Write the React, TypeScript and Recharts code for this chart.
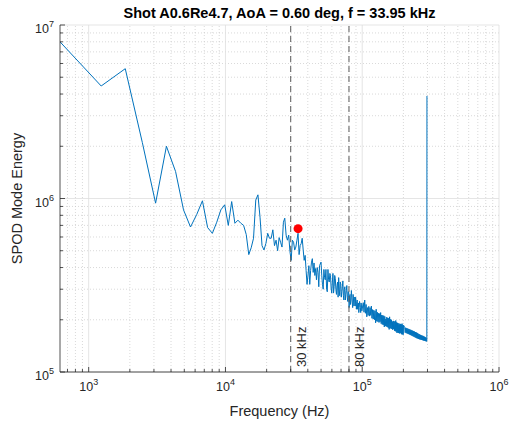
import React from 'react';
import { LineChart, Line, XAxis, YAxis, ReferenceLine, ReferenceDot } from 'recharts';

// ---- data (frequency in Hz, SPOD mode energy) ----
const lowFreqHz = [
  617, 1234, 1851, 2468, 3085, 3702, 4319, 4936, 5553, 6170,
  6787, 7404, 8021, 8638, 9255, 9872, 10489, 11106, 11723, 12340,
  12957, 13574, 14191, 14808, 15425, 16042, 16659, 17276, 17893, 18510,
  19127, 19744, 20361, 20978, 21595, 22212, 22829, 23446, 24063, 24680,
  25297, 25914, 26531, 27148, 27765, 28382, 28999, 29616, 30233, 30850,
  31467, 32084, 32701, 33318, 33935,
];
const lowEnergy = [
  8.0e6, 4.45e6, 5.6e6, 2.1e6, 9.4e5, 2.0e6, 1.43e6, 8.6e5, 6.85e5, 8.1e5,
  9.7e5, 6.8e5, 6.3e5, 7.3e5, 8.6e5, 9.2e5, 7.0e5, 9.6e5, 7.2e5, 7.5e5,
  7.2e5, 7.0e5, 6.2e5, 4.75e5, 5.2e5, 5.9e5, 9.8e5, 1.05e6, 7.8e5, 5.35e5,
  5.05e5, 5.5e5, 6.3e5, 5.9e5, 5.9e5, 6.6e5, 5.35e5, 5.75e5, 5.0e5, 5.95e5,
  5.6e5, 5.25e5, 7.3e5, 7.7e5, 6.15e5, 5.75e5, 6.15e5, 4.95e5, 4.4e5, 5.75e5,
  5.6e5, 5.05e5, 5.25e5, 5.75e5, 6.3e5,
];
const midFreqHz = [
  34552, 35169, 35786, 36403, 37020, 37637, 38254, 38871, 39488, 40105,
  40722, 41339, 41956, 42573, 43190, 43807, 44424, 45041, 45658, 46275,
  46892, 47509, 48126, 48743,
];
const midEnergy = [
  4.75e5, 5.35e5, 5.5e5, 5.9e5, 5.05e5, 4.4e5, 4.7e5, 3.85e5, 3.2e5, 3.6e5,
  4.1e5, 3.2e5, 3.85e5, 4.3e5, 4.5e5, 3.75e5, 4.25e5, 3.6e5, 3.95e5, 3.4e5,
  4.0e5, 3.75e5, 3.1e5, 4.1e5,
];
const upperFreqHz = [
  49977, 51211, 52445, 53679, 54913, 56147, 57381, 58615, 59849, 61083,
  62317, 63551, 64785, 66019, 67253, 68487, 69721, 70955, 72189, 73423,
  74657, 75891, 77125, 78359, 79593, 80827, 82061, 83295, 84529, 85763,
  86997, 88231, 89465, 90699, 91933, 93167, 94401, 95635, 96869, 98103,
  99337,
];
const upperEnergy = [
  4.3e5, 3.2e5, 3.9e5, 3.4e5, 3.0e5, 3.9e5, 3.3e5, 3.6e5, 2.85e5, 3.7e5,
  3.1e5, 3.45e5, 2.8e5, 3.3e5, 3.5e5, 2.75e5, 3.2e5, 2.9e5, 3.35e5, 2.6e5,
  3.1e5, 2.8e5, 3.15e5, 2.55e5, 2.9e5, 2.75e5, 2.45e5, 2.95e5, 2.5e5, 2.8e5,
  2.4e5, 2.65e5, 2.7e5, 2.3e5, 2.6e5, 2.4e5, 2.2e5, 2.55e5, 2.35e5, 2.5e5,
  2.25e5,
];
const upperFreqHzB = [
  50594, 51828, 53062, 54296, 55530, 56764, 57998, 59232, 60466, 61700,
  62934, 64168, 65402, 66636, 67870, 69104, 70338, 71572, 72806, 74040,
  75274, 76508, 77742, 78976, 80210, 81444, 82678, 83912, 85146, 86380,
  87614, 88848, 90082, 91316, 92550, 93784, 95018, 96252, 97486, 98720,
];
const upperEnergyB = [
  3.6e5, 3.0e5, 3.5e5, 3.9e5, 2.9e5, 3.4e5, 3.7e5, 3.05e5, 3.3e5, 2.85e5,
  3.6e5, 3.0e5, 3.15e5, 2.7e5, 3.0e5, 3.3e5, 2.7e5, 3.1e5, 2.75e5, 3.0e5,
  2.6e5, 2.95e5, 2.7e5, 2.9e5, 2.35e5, 2.8e5, 2.6e5, 2.7e5, 2.35e5, 2.6e5,
  2.7e5, 2.4e5, 2.5e5, 2.55e5, 2.3e5, 2.5e5, 2.35e5, 2.45e5, 2.2e5, 2.4e5,
];
const highFreqHz = [
  101805, 104273, 106741, 109209, 111677, 114145, 116613, 119081, 121549, 124017,
  126485, 128953, 131421, 133889, 136357, 138825, 141293, 143761, 146229, 148697,
  151165, 153633, 156101, 158569, 161037, 163505, 165973, 168441, 170909, 173377,
  175845, 178313, 180781, 183249, 185717, 188185, 190653, 193121, 195589, 198057,
  200525,
];
const highEnergy = [
  2.51e5, 2.6e5, 2.45e5, 2.35e5, 2.39e5, 2.35e5, 2.4e5, 2.29e5, 2.27e5, 2.25e5,
  2.3e5, 2.21e5, 2.18e5, 2.17e5, 2.2e5, 2.13e5, 2.12e5, 2.11e5, 2.09e5, 2.02e5,
  2.07e5, 2.05e5, 2.04e5, 2.08e5, 2.01e5, 2.0e5, 1.95e5, 1.97e5, 1.96e5, 1.95e5,
  1.98e5, 1.93e5, 1.92e5, 1.91e5, 1.87e5, 1.9e5, 1.89e5, 1.88e5, 1.9e5, 1.86e5,
  1.86e5,
];
const highFreqHzB = [
  103039, 105507, 107975, 110443, 112911, 115379, 117847, 120315, 122783, 125251,
  127719, 130187, 132655, 135123, 137591, 140059, 142527, 144995, 147463, 149931,
  152399, 154867, 157335, 159803, 162271, 164739, 167207, 169675, 172143, 174611,
  177079, 179547, 182015, 184483, 186951, 189419, 191887, 194355, 196823, 199291,
];
const highEnergyB = [
  2.21e5, 2.18e5, 2.08e5, 2.12e5, 2.1e5, 2.12e5, 2.04e5, 2.02e5, 2.0e5, 1.92e5,
  1.96e5, 1.95e5, 1.93e5, 1.95e5, 1.9e5, 1.88e5, 1.87e5, 1.82e5, 1.84e5, 1.83e5,
  1.82e5, 1.8e5, 1.76e5, 1.79e5, 1.78e5, 1.77e5, 1.75e5, 1.77e5, 1.73e5, 1.72e5,
  1.71e5, 1.68e5, 1.69e5, 1.68e5, 1.67e5, 1.67e5, 1.68e5, 1.65e5, 1.65e5, 1.64e5,
];
const topFreqHz = [
  204227, 207929, 211631, 215333, 219035, 222737, 226439, 230141, 233843, 237545,
  241247, 244949, 248651, 252353, 256055, 259757, 263459, 267161, 270863, 274565,
  278267, 281969, 285671, 289373, 293075, 296777, 297394,
];
const topEnergy = [
  1.81e5, 1.8e5, 1.79e5, 1.78e5, 1.77e5, 1.76e5, 1.75e5, 1.74e5, 1.73e5, 1.72e5,
  1.71e5, 1.7e5, 1.69e5, 1.68e5, 1.665e5, 1.655e5, 1.645e5, 1.635e5, 1.625e5, 1.62e5,
  1.615e5, 1.605e5, 1.595e5, 1.585e5, 1.575e5, 1.51e5, 3.9e6,
];
const topFreqHzB = [
  206078, 209780, 213482, 217184, 220886, 224588, 228290, 231992, 235694, 239396,
  243098, 246800, 250502, 254204, 257906, 261608, 265310, 269012, 272714, 276416,
  280118, 283820, 287522, 291224, 294926,
];
const topEnergyB = [
  1.685e5, 1.675e5, 1.665e5, 1.655e5, 1.645e5, 1.635e5, 1.625e5, 1.615e5, 1.605e5, 1.595e5,
  1.585e5, 1.575e5, 1.565e5, 1.56e5, 1.55e5, 1.545e5, 1.54e5, 1.535e5, 1.53e5, 1.525e5,
  1.52e5, 1.515e5, 1.51e5, 1.505e5, 1.5e5,
];

const peakFreqHz = 33950;
const peakEnergy = 6.7e5;
const markerFreqs = [30000, 80000];
const markerLabels = ['30 kHz', '80 kHz'];

const xMajorTicks = [1e3, 1e4, 1e5, 1e6];
const xMinorTicks = [
  700, 800, 900,
  2000, 3000, 4000, 5000, 6000, 7000, 8000, 9000,
  20000, 30000, 40000, 50000, 60000, 70000, 80000, 90000,
  200000, 300000, 400000, 500000, 600000, 700000, 800000, 900000,
];
const yMajorTicks = [1e5, 1e6, 1e7];
const yMinorTicks = [
  2e5, 3e5, 4e5, 5e5, 6e5, 7e5, 8e5, 9e5,
  2e6, 3e6, 4e6, 5e6, 6e6, 7e6, 8e6, 9e6,
];

const titleText = 'Shot A0.6Re4.7, AoA = 0.60 deg, f = 33.95 kHz';
const xLabel = 'Frequency (Hz)';
const yLabel = 'SPOD Mode Energy';

const allFreq = [
  ...lowFreqHz, ...midFreqHz, ...upperFreqHz, ...upperFreqHzB,
  ...highFreqHz, ...highFreqHzB, ...topFreqHz, ...topFreqHzB,
];
const allEnergy = [
  ...lowEnergy, ...midEnergy, ...upperEnergy, ...upperEnergyB,
  ...highEnergy, ...highEnergyB, ...topEnergy, ...topEnergyB,
];
const data = allFreq.map((f, i) => ({ f, e: allEnergy[i] })).sort((a, b) => a.f - b.f);

const xTicks = [...xMajorTicks, ...xMinorTicks].sort((a, b) => a - b);
const yTicks = [...yMajorTicks, ...yMinorTicks].sort((a, b) => a - b);

// ---- styling ----
const W = 509;
const H = 421;
const X_AXIS_H = 49;
const Y_AXIS_W = 60;
const M = { top: 25, right: 10, bottom: 0, left: 0 };
const AXIS = '#262626';
const FONT = '"Liberation Sans", Arial, Helvetica, sans-serif';
const LINE = '#0072BD';

const isMajor = (v: number) => Math.abs(Math.log10(v) - Math.round(Math.log10(v))) < 1e-9;
const exp = (v: number) => Math.round(Math.log10(v));

const XTickBottom = (props: any) => {
  const { x, y, payload } = props;
  const v = payload.value;
  const major = isMajor(v);
  const len = major ? 5 : 3;
  return (
    <g>
      <line x1={x} x2={x} y1={y} y2={y - len} stroke={AXIS} strokeWidth={0.8} />
      {major && (
        <text x={x} y={y + 19} textAnchor="middle" fontSize={12.5} fill={AXIS} fontFamily={FONT}>
          10<tspan dy={-6} fontSize={9}>{exp(v)}</tspan>
        </text>
      )}
    </g>
  );
};

const XTickTop = (props: any) => {
  const { x, y, payload } = props;
  const len = isMajor(payload.value) ? 5 : 3;
  return <line x1={x} x2={x} y1={y} y2={y + len} stroke={AXIS} strokeWidth={0.8} />;
};

const YTickLeft = (props: any) => {
  const { x, y, payload } = props;
  const v = payload.value;
  const major = isMajor(v);
  const len = major ? 5 : 3;
  return (
    <g>
      <line x1={x} x2={x + len} y1={y} y2={y} stroke={AXIS} strokeWidth={0.8} />
      {major && (
        <text x={x - 6} y={y + 8} textAnchor="end" fontSize={12.5} fill={AXIS} fontFamily={FONT}>
          10<tspan dy={-6} fontSize={9}>{exp(v)}</tspan>
        </text>
      )}
    </g>
  );
};

const YTickRight = (props: any) => {
  const { x, y, payload } = props;
  const len = isMajor(payload.value) ? 5 : 3;
  return <line x1={x} x2={x - len} y1={y} y2={y} stroke={AXIS} strokeWidth={0.8} />;
};

const VLabel = (props: any) => {
  const { viewBox, text } = props;
  if (!viewBox) return null;
  const px = viewBox.x + 11;
  const py = viewBox.y + viewBox.height - 5;
  return (
    <text
      x={px}
      y={py}
      transform={`rotate(-90 ${px} ${py})`}
      textAnchor="start"
      dominantBaseline="central"
      fontSize={13}
      fill={AXIS}
      fontFamily={FONT}
    >
      {text}
    </text>
  );
};

export default function App() {
  const plotLeft = M.left + Y_AXIS_W;
  const plotRight = W - M.right;
  const plotTop = M.top;
  const plotBottom = H - M.bottom - X_AXIS_H;
  const cx = (plotLeft + plotRight) / 2;
  const cy = (plotTop + plotBottom) / 2;

  return (
    <div style={{ position: 'absolute', left: 0, top: 0, width: W, height: H, background: '#ffffff' }}>
      <LineChart width={W} height={H} data={data} margin={M}>
        {xMinorTicks.map((v) => (
          <ReferenceLine key={'xm' + v} x={v} stroke="#c8c8c8" strokeDasharray="1 2" strokeWidth={0.7} />
        ))}
        {yMinorTicks.map((v) => (
          <ReferenceLine key={'ym' + v} y={v} stroke="#c8c8c8" strokeDasharray="1 2" strokeWidth={0.7} />
        ))}
        {xMajorTicks.map((v) => (
          <ReferenceLine key={'xM' + v} x={v} stroke="#dedede" strokeWidth={0.8} />
        ))}
        {yMajorTicks.map((v) => (
          <ReferenceLine key={'yM' + v} y={v} stroke="#dedede" strokeWidth={0.8} />
        ))}
        <XAxis
          dataKey="f"
          type="number"
          scale="log"
          domain={[617, 1e6]}
          allowDataOverflow
          ticks={xTicks}
          interval={0}
          tickSize={0}
          tickMargin={0}
          tickLine={false}
          tick={<XTickBottom />}
          axisLine={{ stroke: AXIS, strokeWidth: 0.8 }}
          height={X_AXIS_H}
        />
        <XAxis
          xAxisId="top"
          orientation="top"
          dataKey="f"
          type="number"
          scale="log"
          domain={[617, 1e6]}
          allowDataOverflow
          ticks={xTicks}
          interval={0}
          tickSize={0}
          tickMargin={0}
          tickLine={false}
          tick={<XTickTop />}
          axisLine={{ stroke: AXIS, strokeWidth: 0.8 }}
          height={0}
        />
        <YAxis
          type="number"
          scale="log"
          domain={[1e5, 1e7]}
          allowDataOverflow
          ticks={yTicks}
          interval={0}
          tickSize={0}
          tickMargin={0}
          tickLine={false}
          tick={<YTickLeft />}
          axisLine={{ stroke: AXIS, strokeWidth: 0.8 }}
          width={Y_AXIS_W}
        />
        <YAxis
          yAxisId="right"
          orientation="right"
          type="number"
          scale="log"
          domain={[1e5, 1e7]}
          allowDataOverflow
          ticks={yTicks}
          interval={0}
          tickSize={0}
          tickMargin={0}
          tickLine={false}
          tick={<YTickRight />}
          axisLine={{ stroke: AXIS, strokeWidth: 0.8 }}
          width={0}
        />
        <Line
          type="linear"
          dataKey="e"
          stroke={LINE}
          strokeWidth={1}
          dot={false}
          isAnimationActive={false}
        />
        {markerFreqs.map((v, i) => (
          <ReferenceLine
            key={'mk' + v}
            x={v}
            stroke="#5a5a5a"
            strokeDasharray="6 4"
            strokeWidth={1}
            label={<VLabel text={markerLabels[i]} />}
          />
        ))}
        <ReferenceDot x={peakFreqHz} y={peakEnergy} r={4.5} fill="#ff0000" stroke="none" />
      </LineChart>
      <svg
        width={W}
        height={H}
        style={{ position: 'absolute', left: 0, top: 0, pointerEvents: 'none' }}
      >
        <text x={cx} y={18} textAnchor="middle" fontSize={14.5} fontWeight="bold" fill="#000" fontFamily={FONT}>
          {titleText}
        </text>
        <text x={cx} y={416} textAnchor="middle" fontSize={14.5} fill={AXIS} fontFamily={FONT}>
          {xLabel}
        </text>
        <text
          x={22}
          y={cy}
          transform={`rotate(-90 22 ${cy})`}
          textAnchor="middle"
          fontSize={14.5}
          fill={AXIS}
          fontFamily={FONT}
        >
          {yLabel}
        </text>
      </svg>
    </div>
  );
}
